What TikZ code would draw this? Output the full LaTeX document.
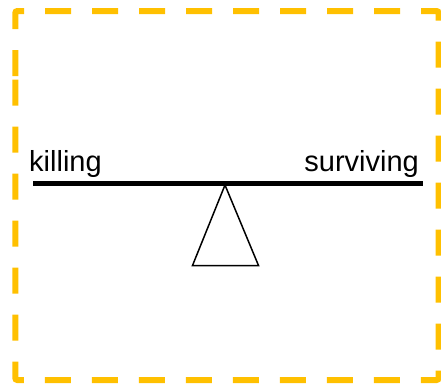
\documentclass[tikz,border=0pt]{standalone}
\usepackage{fontspec}
\setmainfont{Liberation Sans}
\definecolor{frameyellow}{HTML}{FFC000}
\begin{document}
\begin{tikzpicture}[x=1pt,y=-1pt,
  frame/.style={draw=frameyellow,line width=6pt,dash pattern=on 26pt off 21pt,rounded corners=2pt},
  beam/.style={draw=black,line width=5pt},
  fulcrum/.style={draw=black,line width=1.5pt,line join=miter},
  lbl/.style={inner sep=0pt,font=\fontsize{29}{33}\selectfont}]
\useasboundingbox (0,0) rectangle (441,384);
\draw[frame] (15.3,78) -- (15.3,11) -- (438.5,11) -- (438.5,380) -- (15.3,380) -- cycle;
\coordinate (bl) at (33,183.5);
\coordinate (br) at (423,183.5);
\draw[beam] (bl) -- (br);
\coordinate (apex) at (225,185);
\coordinate (b1) at (192.5,265.5);
\coordinate (b2) at (258.5,265.5);
\draw[fulcrum] (apex) -- (b1) -- (b2) -- cycle;
\node[lbl,anchor=base west] (kill) at (29,171) {killing};
\node[lbl,anchor=base east] (surv) at (419,171) {surviving};
\end{tikzpicture}
\end{document}
